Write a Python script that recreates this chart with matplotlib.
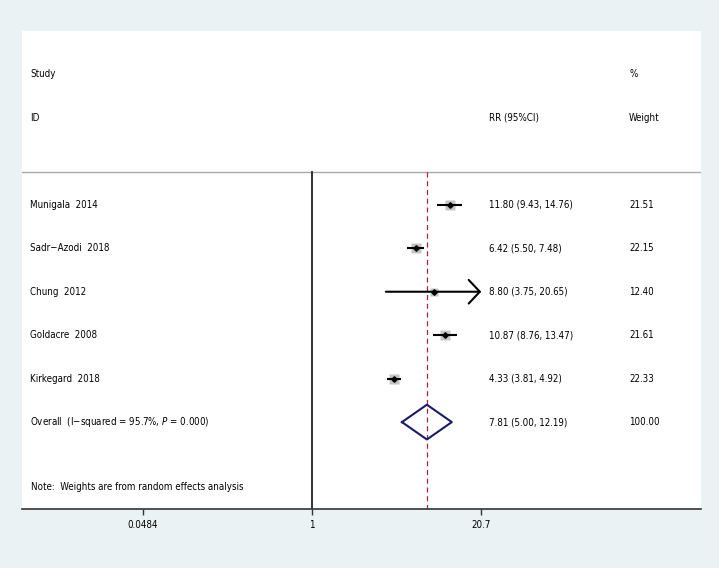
import matplotlib
matplotlib.use("Agg")
import matplotlib.pyplot as plt
from matplotlib import font_manager
import numpy as np

# ---- data ----
studies = ["Munigala  2014", "Sadr\u2212Azodi  2018", "Chung  2012", "Goldacre  2008", "Kirkegard  2018"]
rr = [11.80, 6.42, 8.80, 10.87, 4.33]
lo = [9.43, 5.50, 3.75, 8.76, 3.81]
hi = [14.76, 7.48, 20.65, 13.47, 4.92]
weights = [21.51, 22.15, 12.40, 21.61, 22.33]
overall_rr, overall_lo, overall_hi = 7.81, 5.00, 12.19
overall_label = "Overall  (I\u2212squared = 95.7%, $\\it{P}$ = 0.000)"
note = "Note:  Weights are from random effects analysis"
xticks = [0.0484, 1, 20.7]
xticklabels = ["0.0484", "1", "20.7"]

# ---- font selection ----
names = {f.name for f in font_manager.fontManager.ttflist}
cond = [f for f in font_manager.fontManager.ttflist
        if f.name == "DejaVu Sans" and str(f.stretch) in ("condensed", "semi-condensed", "600", "700")]
if "Liberation Sans Narrow" in names:
    FONT, FS, STRETCH = "Liberation Sans Narrow", 8.4, "normal"
elif cond:
    FONT, FS, STRETCH = "DejaVu Sans", 7.0, "condensed"
else:
    FONT, FS, STRETCH = "Liberation Sans", 7.1, "normal"
plt.rcParams["font.family"] = [FONT, "DejaVu Sans"]
plt.rcParams["font.stretch"] = STRETCH
plt.rcParams["mathtext.fontset"] = "custom"
plt.rcParams["mathtext.rm"] = FONT
plt.rcParams["mathtext.it"] = FONT + ":italic"

BG = "#eaf2f3"
fig = plt.figure(figsize=(7.19, 5.68), dpi=100, facecolor=BG)
ax = fig.add_axes([22 / 719, 1 - 509 / 568, (701 - 22) / 719, (509 - 31) / 568])
ax.set_facecolor("white")
ax.set_xscale("log")
# pixel mapping: 1 -> 312 px, 55.9 px per ln unit
ppl = 55.9
ax.set_xlim(np.exp((22 - 312) / ppl), np.exp((701 - 312) / ppl))
ax.set_ylim(7.0, -4.0)

for s in ["top", "left", "right"]:
    ax.spines[s].set_visible(False)
ax.spines["bottom"].set_color("#333333")
ax.spines["bottom"].set_linewidth(1.2)
ax.set_yticks([])
ax.set_xticks(xticks)
ax.set_xticklabels(xticklabels, fontsize=FS)
ax.xaxis.set_minor_locator(matplotlib.ticker.NullLocator())
ax.tick_params(axis="x", length=4.5, width=1, color="#333333", pad=3.5)

sep_y = -0.76
ax.axhline(sep_y, color="#a8a8a8", lw=1.0)
ax.plot([1, 1], [sep_y, 7.0], color="#222222", lw=1.3, zorder=2)
ax.plot([overall_rr, overall_rr], [sep_y, 7.0], color="#a0283a", lw=0.9,
        dashes=(4, 3), zorder=2)

tr = ax.get_yaxis_transform()  # x in axes fraction, y in data
xl = (30 - 22) / (701 - 22)
xrr = (489 - 22) / (701 - 22)
xw = (629 - 22) / (701 - 22)

ax.text(xl, -3.0, "Study", transform=tr, fontsize=FS, va="center")
ax.text(xl, -2.0, "ID", transform=tr, fontsize=FS, va="center")
ax.text(xw, -3.0, "%", transform=tr, fontsize=FS, va="center")
ax.text(xw, -2.0, "Weight", transform=tr, fontsize=FS, va="center")
ax.text(xrr, -2.0, "RR (95%CI)", transform=tr, fontsize=FS, va="center")

for i, (name, r, l, h, w) in enumerate(zip(studies, rr, lo, hi, weights)):
    y = i
    ax.text(xl, y, name, transform=tr, fontsize=FS, va="center")
    ax.text(xrr, y, f"{r:.2f} ({l:.2f}, {h:.2f})", transform=tr, fontsize=FS, va="center")
    ax.text(xw, y, f"{w:.2f}", transform=tr, fontsize=FS, va="center")
    ax.plot([r], [y], marker="s", ms=7.2 * np.sqrt(w / 22.0), color="#c4c4c4",
            mec="none", zorder=3)
    if h > 15:
        ax.annotate("", xy=(h, y), xytext=(l, y),
                    arrowprops=dict(arrowstyle="->,head_length=0.8,head_width=0.85",
                                    lw=1.5, color="black", shrinkA=0, shrinkB=0),
                    zorder=4)
    else:
        ax.plot([l, h], [y, y], color="black", lw=1.5, solid_capstyle="butt", zorder=4)
    ax.plot([r], [y], marker="D", ms=2.8, color="black", zorder=6)

# overall diamond
yo = 5
ax.plot([overall_lo, overall_rr, overall_hi, overall_rr, overall_lo],
        [yo, yo - 0.4, yo, yo + 0.4, yo], color="#1a1a6b", lw=1.5, zorder=4)
ax.text(xl, yo, overall_label, transform=tr, fontsize=FS, va="center")
ax.text(xrr, yo, f"{overall_rr:.2f} ({overall_lo:.2f}, {overall_hi:.2f})", transform=tr,
        fontsize=FS, va="center")
ax.text(xw, yo, "100.00", transform=tr, fontsize=FS, va="center")

ax.text(xl + 1 / 679, 6.5, note, transform=tr, fontsize=FS, va="center")

fig.savefig("out.png", dpi=100, facecolor=BG)
